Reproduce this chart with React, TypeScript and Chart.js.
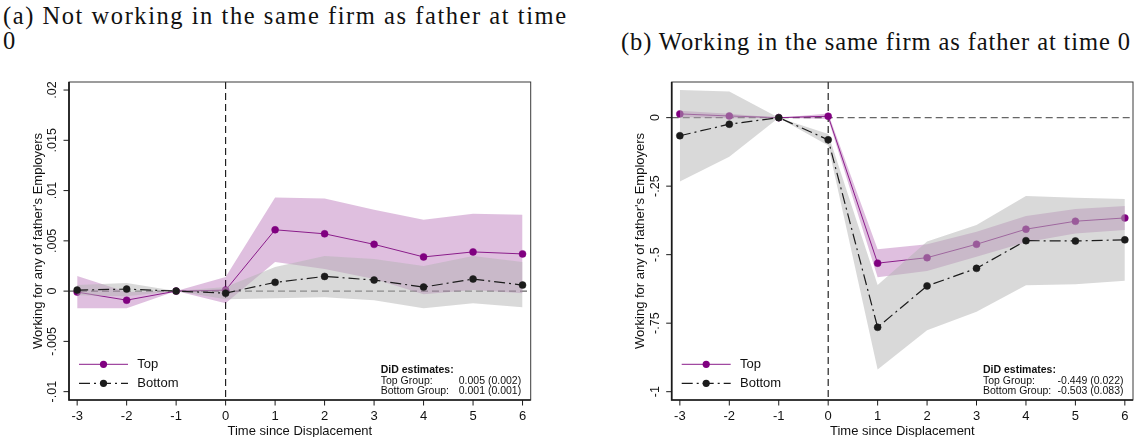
import React, { useEffect, useRef } from "react";
import { Chart, registerables } from "chart.js";

Chart.register(...registerables);

// Event time relative to displacement
const periods = [-3, -2, -1, 0, 1, 2, 3, 4, 5, 6];
const xTickLabels = ["-3", "-2", "-1", "0", "1", "2", "3", "4", "5", "6"];

// Panel (a): not working in the same firm as father at time 0
const yTicksA = [-0.01, -0.005, 0, 0.005, 0.01, 0.015, 0.02];
const yTickLabelsA = ["-.01", "-.005", "0", ".005", ".01", ".015", ".02"];
const topA = [-0.0001, -0.0009, 0, 0.0001, 0.0061, 0.0057, 0.00465, 0.0034, 0.0039, 0.0037];
const topAHigh = [0.0015, -0.0001, 0, 0.0014, 0.0093, 0.0092, 0.0081, 0.0071, 0.0077, 0.0076];
const topALow = [-0.0017, -0.0017, 0, -0.0012, 0.0029, 0.0022, 0.0012, -0.0003, 0.0001, -0.0002];
const bottomA = [0.0001, 0.0002, 0, -0.0002, 0.00087, 0.00146, 0.0011, 0.0004, 0.0012, 0.0006];
const bottomAHigh = [0.0006, 0.0008, 0, 0.0004, 0.0024, 0.0035, 0.0032, 0.0025, 0.0035, 0.0029];
const bottomALow = [-0.0004, -0.0005, 0, -0.0008, -0.0007, -0.0006, -0.0009, -0.0017, -0.0012, -0.0016];

// Panel (b): working in the same firm as father at time 0
const yTicksB = [-1, -0.75, -0.5, -0.25, 0];
const yTickLabelsB = ["-1", "-.75", "-.5", "-.25", "0"];
const topB = [0.0135, 0.006, 0, 0.005, -0.531, -0.511, -0.462, -0.407, -0.378, -0.366];
const topBHigh = [0.025, 0.014, 0, 0.015, -0.48, -0.462, -0.416, -0.359, -0.333, -0.322];
const topBLow = [0.002, -0.002, 0, -0.005, -0.582, -0.56, -0.508, -0.455, -0.423, -0.41];
const bottomB = [-0.066, -0.024, 0, -0.081, -0.765, -0.614, -0.55, -0.449, -0.45, -0.446];
const bottomBHigh = [0.101, 0.095, 0, -0.06, -0.611, -0.452, -0.392, -0.286, -0.292, -0.297];
const bottomBLow = [-0.233, -0.143, 0, -0.102, -0.919, -0.776, -0.708, -0.612, -0.608, -0.595];

// Difference-in-differences summaries
const didA = { top: "0.005 (0.002)", bottom: "0.001 (0.001)" };
const didB = { top: "-0.449 (0.022)", bottom: "-0.503 (0.083)" };

const PURPLE = "#800080";
const PURPLE_LINE = "#8a1c8a";
const PURPLE_BAND = "rgba(128,0,128,0.25)";
const GRAY_BAND = "rgba(180,180,180,0.5)";
const DARK = "#1c1c1c";
const BOTTOM_DASH = [11, 4, 2, 4];
const SANS = '"Liberation Sans", Arial, Helvetica, sans-serif';

const CANVAS_TOP = 60;
const CANVAS_H = 377;
const PAD_TOP = 22;
const PAD_BOTTOM = 37;

type PanelProps = {
  left: number;
  width: number;
  padLeft: number;
  padRight: number;
  yMin: number;
  yMax: number;
  yTicks: number[];
  yTickLabels: string[];
  top: number[];
  topHigh: number[];
  topLow: number[];
  bottom: number[];
  bottomHigh: number[];
  bottomLow: number[];
  did: { top: string; bottom: string };
};

const pts = (vals: number[]) => periods.map((p, i) => ({ x: p, y: vals[i] }));

function Panel(props: PanelProps) {
  const ref = useRef<HTMLCanvasElement | null>(null);

  useEffect(() => {
    const canvas = ref.current;
    if (!canvas) return;

    const decor = {
      id: "decor",
      beforeDatasetsDraw(chart: any) {
        const { ctx, chartArea: a, scales } = chart;
        const x = scales.x;
        const y = scales.y;
        ctx.save();
        const y0 = y.getPixelForValue(0);
        ctx.strokeStyle = "#666";
        ctx.lineWidth = 1.3;
        ctx.setLineDash([7, 4]);
        ctx.beginPath();
        ctx.moveTo(a.left, y0);
        ctx.lineTo(a.right, y0);
        ctx.stroke();
        const x0 = x.getPixelForValue(0);
        ctx.strokeStyle = "#111";
        ctx.lineWidth = 1.1;
        ctx.setLineDash([7, 4]);
        ctx.beginPath();
        ctx.moveTo(x0, a.top);
        ctx.lineTo(x0, a.bottom);
        ctx.stroke();
        ctx.restore();
      },
      afterDraw(chart: any) {
        const { ctx, chartArea: a, scales } = chart;
        const x = scales.x;
        const y = scales.y;
        ctx.save();
        ctx.setLineDash([]);

        // plot region outline
        ctx.strokeStyle = "#3a3a3a";
        ctx.lineWidth = 1;
        ctx.strokeRect(a.left, a.top, a.right - a.left, a.bottom - a.top);
        ctx.strokeStyle = "#1a1a1a";
        ctx.lineWidth = 1.7;
        ctx.beginPath();
        ctx.moveTo(a.left, a.top);
        ctx.lineTo(a.left, a.bottom);
        ctx.lineTo(a.right, a.bottom);
        ctx.stroke();

        // y ticks and rotated labels
        ctx.lineWidth = 1;
        ctx.fillStyle = "#111";
        ctx.font = `12.5px ${SANS}`;
        props.yTicks.forEach((v, i) => {
          const py = y.getPixelForValue(v);
          ctx.beginPath();
          ctx.moveTo(a.left - 5.5, py);
          ctx.lineTo(a.left, py);
          ctx.stroke();
          ctx.save();
          ctx.translate(a.left - 16.5, py);
          ctx.rotate(-Math.PI / 2);
          ctx.textAlign = "center";
          ctx.textBaseline = "middle";
          ctx.fillText(props.yTickLabels[i], 0, 0);
          ctx.restore();
        });

        // x ticks and labels
        ctx.font = `13px ${SANS}`;
        ctx.textAlign = "center";
        ctx.textBaseline = "middle";
        periods.forEach((v, i) => {
          const px = x.getPixelForValue(v);
          ctx.beginPath();
          ctx.moveTo(px, a.bottom);
          ctx.lineTo(px, a.bottom + 5.5);
          ctx.stroke();
          ctx.fillText(xTickLabels[i], px, a.bottom + 16.5);
        });

        // axis titles
        ctx.fillText("Time since Displacement", (a.left + a.right) / 2, a.bottom + 31.5);
        ctx.save();
        ctx.translate(a.left - 31, (a.top + a.bottom) / 2);
        ctx.rotate(-Math.PI / 2);
        ctx.fillText("Working for any of father's Employers", 0, 0);
        ctx.restore();

        // legend
        const lx0 = a.left + 10;
        const lx1 = a.left + 59;
        const lm = a.left + 34.5;
        const rowTop = a.bottom - 35.7;
        const rowBottom = a.bottom - 16.7;
        ctx.textAlign = "left";
        ctx.strokeStyle = PURPLE_LINE;
        ctx.lineWidth = 1;
        ctx.beginPath();
        ctx.moveTo(lx0, rowTop);
        ctx.lineTo(lx1, rowTop);
        ctx.stroke();
        ctx.fillStyle = PURPLE;
        ctx.beginPath();
        ctx.arc(lm, rowTop, 3.6, 0, Math.PI * 2);
        ctx.fill();
        ctx.strokeStyle = DARK;
        ctx.lineWidth = 1.2;
        ctx.setLineDash(BOTTOM_DASH);
        ctx.beginPath();
        ctx.moveTo(lx0, rowBottom);
        ctx.lineTo(lx1, rowBottom);
        ctx.stroke();
        ctx.setLineDash([]);
        ctx.fillStyle = DARK;
        ctx.beginPath();
        ctx.arc(lm, rowBottom, 3.6, 0, Math.PI * 2);
        ctx.fill();
        ctx.fillStyle = "#111";
        ctx.fillText("Top", a.left + 68.3, rowTop);
        ctx.fillText("Bottom", a.left + 68.3, rowBottom);

        // DiD estimates
        const dl = a.right - 150;
        const dr = a.right - 9.5;
        ctx.font = `bold 10.5px ${SANS}`;
        ctx.fillText("DiD estimates:", dl, a.bottom - 30);
        ctx.font = `10.5px ${SANS}`;
        ctx.fillText("Top Group:", dl, a.bottom - 19.3);
        ctx.fillText("Bottom Group:", dl, a.bottom - 8.7);
        ctx.textAlign = "right";
        ctx.fillText(props.did.top, dr, a.bottom - 19.3);
        ctx.fillText(props.did.bottom, dr, a.bottom - 8.7);

        ctx.restore();
      },
    };

    const hidden = "rgba(0,0,0,0)";
    const chart = new Chart(canvas, {
      type: "line",
      data: {
        datasets: [
          {
            label: "Top CI high",
            data: pts(props.topHigh),
            borderColor: hidden,
            borderWidth: 0,
            pointRadius: 0,
            backgroundColor: PURPLE_BAND,
            fill: "+1",
            order: 3,
          },
          {
            label: "Top CI low",
            data: pts(props.topLow),
            borderColor: hidden,
            borderWidth: 0,
            pointRadius: 0,
            fill: false,
            order: 3,
          },
          {
            label: "Top",
            data: pts(props.top),
            borderColor: PURPLE_LINE,
            borderWidth: 1,
            pointRadius: 3.5,
            pointBackgroundColor: PURPLE,
            pointBorderColor: PURPLE,
            pointBorderWidth: 0.5,
            fill: false,
            order: 2,
          },
          {
            label: "Bottom CI high",
            data: pts(props.bottomHigh),
            borderColor: hidden,
            borderWidth: 0,
            pointRadius: 0,
            backgroundColor: GRAY_BAND,
            fill: "+1",
            order: 1,
          },
          {
            label: "Bottom CI low",
            data: pts(props.bottomLow),
            borderColor: hidden,
            borderWidth: 0,
            pointRadius: 0,
            fill: false,
            order: 1,
          },
          {
            label: "Bottom",
            data: pts(props.bottom),
            borderColor: DARK,
            borderWidth: 1.2,
            borderDash: BOTTOM_DASH,
            pointRadius: 3.5,
            pointBackgroundColor: DARK,
            pointBorderColor: DARK,
            pointBorderWidth: 0.5,
            fill: false,
            order: 0,
          },
        ],
      },
      options: {
        animation: false,
        responsive: false,
        devicePixelRatio: 1,
        events: [],
        layout: {
          padding: { left: props.padLeft, right: props.padRight, top: PAD_TOP, bottom: PAD_BOTTOM },
        },
        scales: {
          x: { type: "linear", min: -3.165, max: 6.165, display: false },
          y: { type: "linear", min: props.yMin, max: props.yMax, display: false },
        },
        plugins: {
          legend: { display: false },
          tooltip: { enabled: false },
          title: { display: false },
        },
      },
      plugins: [decor],
    } as any);

    return () => chart.destroy();
  }, []);

  return (
    <canvas
      ref={ref}
      width={props.width}
      height={CANVAS_H}
      style={{
        position: "absolute",
        left: props.left,
        top: CANVAS_TOP,
        width: props.width,
        height: CANVAS_H,
      }}
    />
  );
}

const serif = '"Liberation Serif", "Times New Roman", serif';

export default function App() {
  return (
    <div
      style={{
        position: "absolute",
        left: 0,
        top: 0,
        width: 1148,
        height: 437,
        background: "#fff",
        overflow: "hidden",
      }}
    >
      <svg
        width={1148}
        height={60}
        style={{ position: "absolute", left: 0, top: 0 }}
      >
        <text x={3} y={24} fontFamily={serif} fontSize={24.5} fill="#111" textLength={563} lengthAdjust="spacing">
          (a) Not working in the same firm as father at time
        </text>
        <text x={3} y={48.5} fontFamily={serif} fontSize={24.5} fill="#111">
          0
        </text>
        <text x={621} y={49.5} fontFamily={serif} fontSize={24.5} fill="#111" textLength={509} lengthAdjust="spacing">
          (b) Working in the same firm as father at time 0
        </text>
      </svg>
      <Panel
        left={0}
        width={574}
        padLeft={69}
        padRight={43.3}
        yMin={-0.01083}
        yMax={0.0208}
        yTicks={yTicksA}
        yTickLabels={yTickLabelsA}
        top={topA}
        topHigh={topAHigh}
        topLow={topALow}
        bottom={bottomA}
        bottomHigh={bottomAHigh}
        bottomLow={bottomALow}
        did={didA}
      />
      <Panel
        left={574}
        width={574}
        padLeft={97.7}
        padRight={15}
        yMin={-1.0303}
        yMax={0.13}
        yTicks={yTicksB}
        yTickLabels={yTickLabelsB}
        top={topB}
        topHigh={topBHigh}
        topLow={topBLow}
        bottom={bottomB}
        bottomHigh={bottomBHigh}
        bottomLow={bottomBLow}
        did={didB}
      />
    </div>
  );
}
